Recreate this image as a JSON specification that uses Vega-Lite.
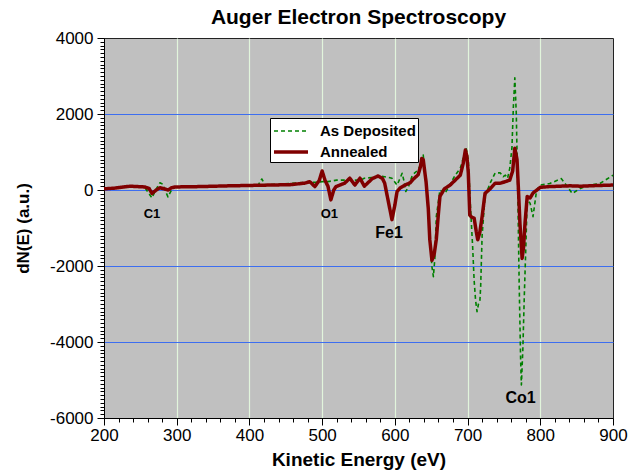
{
  "$schema": "https://vega.github.io/schema/vega-lite/v6.json",
  "autosize": {"type": "none"},
  "width": 509,
  "height": 380,
  "padding": {"left": 104, "top": 38, "right": 28, "bottom": 58},
  "background": "white",
  "config": {
    "font": "Liberation Sans",
    "view": {"fill": "#c0c0c0", "stroke": "#222222", "strokeWidth": 1},
    "legend": {
      "orient": "none", "legendX": 166, "legendY": 80, "title": null,
      "fillColor": "white", "strokeColor": "black", "padding": 2,
      "symbolType": "M-1.7,0L1.7,0", "symbolSize": 400, "symbolOffset": 7,
      "labelFontSize": 15, "labelFontWeight": "bold", "labelColor": "black",
      "rowPadding": 1, "labelOffset": 17
    }
  },
  "title": {"text": "Auger Electron Spectroscopy", "fontSize": 21, "fontWeight": "bold", "anchor": "middle", "offset": 1, "color": "black"},
  "datasets": {
    "spec": [
      {"e":200,"v":30,"s":"As Deposited"},{"e":215,"v":40,"s":"As Deposited"},{"e":236,"v":100,"s":"As Deposited"},{"e":256,"v":70,"s":"As Deposited"},{"e":262,"v":-100,"s":"As Deposited"},{"e":266,"v":-210,"s":"As Deposited"},{"e":271,"v":0,"s":"As Deposited"},{"e":277,"v":190,"s":"As Deposited"},{"e":281,"v":150,"s":"As Deposited"},{"e":285,"v":-50,"s":"As Deposited"},{"e":288,"v":-180,"s":"As Deposited"},{"e":292,"v":-30,"s":"As Deposited"},{"e":298,"v":80,"s":"As Deposited"},{"e":332,"v":90,"s":"As Deposited"},{"e":373,"v":110,"s":"As Deposited"},{"e":401,"v":120,"s":"As Deposited"},{"e":412,"v":130,"s":"As Deposited"},{"e":417,"v":290,"s":"As Deposited"},{"e":422,"v":130,"s":"As Deposited"},{"e":428,"v":140,"s":"As Deposited"},{"e":456,"v":170,"s":"As Deposited"},{"e":476,"v":200,"s":"As Deposited"},{"e":490,"v":200,"s":"As Deposited"},{"e":500,"v":220,"s":"As Deposited"},{"e":508,"v":220,"s":"As Deposited"},{"e":520,"v":260,"s":"As Deposited"},{"e":531,"v":260,"s":"As Deposited"},{"e":545,"v":260,"s":"As Deposited"},{"e":552,"v":250,"s":"As Deposited"},{"e":558,"v":310,"s":"As Deposited"},{"e":569,"v":330,"s":"As Deposited"},{"e":577,"v":370,"s":"As Deposited"},{"e":586,"v":350,"s":"As Deposited"},{"e":596,"v":310,"s":"As Deposited"},{"e":603,"v":130,"s":"As Deposited"},{"e":607,"v":300,"s":"As Deposited"},{"e":610,"v":440,"s":"As Deposited"},{"e":613,"v":200,"s":"As Deposited"},{"e":615,"v":-40,"s":"As Deposited"},{"e":619,"v":100,"s":"As Deposited"},{"e":624,"v":390,"s":"As Deposited"},{"e":632,"v":530,"s":"As Deposited"},{"e":635,"v":660,"s":"As Deposited"},{"e":639,"v":920,"s":"As Deposited"},{"e":643,"v":200,"s":"As Deposited"},{"e":646,"v":-530,"s":"As Deposited"},{"e":649,"v":-1500,"s":"As Deposited"},{"e":651,"v":-2020,"s":"As Deposited"},{"e":653,"v":-2280,"s":"As Deposited"},{"e":655,"v":-1800,"s":"As Deposited"},{"e":657,"v":-700,"s":"As Deposited"},{"e":662,"v":0,"s":"As Deposited"},{"e":669,"v":-90,"s":"As Deposited"},{"e":676,"v":150,"s":"As Deposited"},{"e":683,"v":390,"s":"As Deposited"},{"e":690,"v":570,"s":"As Deposited"},{"e":695,"v":900,"s":"As Deposited"},{"e":698,"v":1100,"s":"As Deposited"},{"e":701,"v":790,"s":"As Deposited"},{"e":704,"v":-440,"s":"As Deposited"},{"e":707,"v":-1500,"s":"As Deposited"},{"e":709,"v":-2370,"s":"As Deposited"},{"e":711,"v":-2900,"s":"As Deposited"},{"e":713,"v":-3200,"s":"As Deposited"},{"e":715,"v":-3000,"s":"As Deposited"},{"e":717,"v":-2900,"s":"As Deposited"},{"e":718,"v":-2540,"s":"As Deposited"},{"e":720,"v":-1200,"s":"As Deposited"},{"e":724,"v":-170,"s":"As Deposited"},{"e":731,"v":180,"s":"As Deposited"},{"e":738,"v":450,"s":"As Deposited"},{"e":745,"v":450,"s":"As Deposited"},{"e":749,"v":350,"s":"As Deposited"},{"e":752,"v":390,"s":"As Deposited"},{"e":755,"v":310,"s":"As Deposited"},{"e":758,"v":570,"s":"As Deposited"},{"e":761,"v":1100,"s":"As Deposited"},{"e":763,"v":2200,"s":"As Deposited"},{"e":765,"v":2950,"s":"As Deposited"},{"e":767,"v":2000,"s":"As Deposited"},{"e":769,"v":0,"s":"As Deposited"},{"e":771,"v":-2500,"s":"As Deposited"},{"e":773,"v":-4500,"s":"As Deposited"},{"e":774,"v":-5130,"s":"As Deposited"},{"e":776,"v":-4200,"s":"As Deposited"},{"e":778,"v":-2800,"s":"As Deposited"},{"e":780,"v":-1580,"s":"As Deposited"},{"e":782,"v":-260,"s":"As Deposited"},{"e":786,"v":-350,"s":"As Deposited"},{"e":790,"v":-700,"s":"As Deposited"},{"e":795,"v":0,"s":"As Deposited"},{"e":800,"v":130,"s":"As Deposited"},{"e":813,"v":170,"s":"As Deposited"},{"e":829,"v":300,"s":"As Deposited"},{"e":844,"v":-90,"s":"As Deposited"},{"e":855,"v":40,"s":"As Deposited"},{"e":868,"v":130,"s":"As Deposited"},{"e":882,"v":170,"s":"As Deposited"},{"e":900,"v":390,"s":"As Deposited"},
      {"e":200,"v":30,"s":"Annealed"},{"e":215,"v":50,"s":"Annealed"},{"e":236,"v":100,"s":"Annealed"},{"e":256,"v":80,"s":"Annealed"},{"e":262,"v":40,"s":"Annealed"},{"e":266,"v":-90,"s":"Annealed"},{"e":272,"v":0,"s":"Annealed"},{"e":277,"v":60,"s":"Annealed"},{"e":283,"v":30,"s":"Annealed"},{"e":288,"v":0,"s":"Annealed"},{"e":293,"v":60,"s":"Annealed"},{"e":298,"v":80,"s":"Annealed"},{"e":332,"v":90,"s":"Annealed"},{"e":373,"v":110,"s":"Annealed"},{"e":401,"v":120,"s":"Annealed"},{"e":428,"v":130,"s":"Annealed"},{"e":456,"v":140,"s":"Annealed"},{"e":476,"v":180,"s":"Annealed"},{"e":483,"v":220,"s":"Annealed"},{"e":490,"v":90,"s":"Annealed"},{"e":496,"v":250,"s":"Annealed"},{"e":500,"v":500,"s":"Annealed"},{"e":504,"v":250,"s":"Annealed"},{"e":508,"v":100,"s":"Annealed"},{"e":512,"v":-260,"s":"Annealed"},{"e":516,"v":0,"s":"Annealed"},{"e":519,"v":90,"s":"Annealed"},{"e":531,"v":180,"s":"Annealed"},{"e":538,"v":310,"s":"Annealed"},{"e":545,"v":130,"s":"Annealed"},{"e":552,"v":310,"s":"Annealed"},{"e":558,"v":100,"s":"Annealed"},{"e":569,"v":300,"s":"Annealed"},{"e":577,"v":370,"s":"Annealed"},{"e":583,"v":300,"s":"Annealed"},{"e":586,"v":180,"s":"Annealed"},{"e":591,"v":-300,"s":"Annealed"},{"e":596,"v":-780,"s":"Annealed"},{"e":600,"v":-400,"s":"Annealed"},{"e":603,"v":-40,"s":"Annealed"},{"e":607,"v":50,"s":"Annealed"},{"e":614,"v":130,"s":"Annealed"},{"e":621,"v":190,"s":"Annealed"},{"e":625,"v":280,"s":"Annealed"},{"e":632,"v":400,"s":"Annealed"},{"e":635,"v":600,"s":"Annealed"},{"e":637,"v":830,"s":"Annealed"},{"e":639,"v":800,"s":"Annealed"},{"e":643,"v":200,"s":"Annealed"},{"e":646,"v":-500,"s":"Annealed"},{"e":648,"v":-1300,"s":"Annealed"},{"e":651,"v":-1850,"s":"Annealed"},{"e":654,"v":-1700,"s":"Annealed"},{"e":657,"v":-1300,"s":"Annealed"},{"e":660,"v":-600,"s":"Annealed"},{"e":662,"v":-170,"s":"Annealed"},{"e":668,"v":30,"s":"Annealed"},{"e":676,"v":130,"s":"Annealed"},{"e":683,"v":260,"s":"Annealed"},{"e":690,"v":390,"s":"Annealed"},{"e":694,"v":700,"s":"Annealed"},{"e":697,"v":1050,"s":"Annealed"},{"e":699,"v":900,"s":"Annealed"},{"e":701,"v":450,"s":"Annealed"},{"e":703,"v":-660,"s":"Annealed"},{"e":706,"v":-720,"s":"Annealed"},{"e":709,"v":-740,"s":"Annealed"},{"e":712,"v":-1100,"s":"Annealed"},{"e":714,"v":-1310,"s":"Annealed"},{"e":717,"v":-1100,"s":"Annealed"},{"e":720,"v":-700,"s":"Annealed"},{"e":724,"v":-90,"s":"Annealed"},{"e":731,"v":30,"s":"Annealed"},{"e":738,"v":180,"s":"Annealed"},{"e":745,"v":180,"s":"Annealed"},{"e":752,"v":220,"s":"Annealed"},{"e":758,"v":260,"s":"Annealed"},{"e":762,"v":500,"s":"Annealed"},{"e":765,"v":1100,"s":"Annealed"},{"e":768,"v":800,"s":"Annealed"},{"e":770,"v":0,"s":"Annealed"},{"e":772,"v":-870,"s":"Annealed"},{"e":775,"v":-1800,"s":"Annealed"},{"e":777,"v":-1500,"s":"Annealed"},{"e":779,"v":-870,"s":"Annealed"},{"e":782,"v":-170,"s":"Annealed"},{"e":786,"v":-210,"s":"Annealed"},{"e":790,"v":-80,"s":"Annealed"},{"e":800,"v":70,"s":"Annealed"},{"e":813,"v":90,"s":"Annealed"},{"e":827,"v":100,"s":"Annealed"},{"e":841,"v":110,"s":"Annealed"},{"e":855,"v":100,"s":"Annealed"},{"e":868,"v":110,"s":"Annealed"},{"e":882,"v":120,"s":"Annealed"},{"e":900,"v":130,"s":"Annealed"}
    ],
    "labels": [
      {"e":266,"v":-630,"t":"C1"},
      {"e":510,"v":-630,"t":"O1"},
      {"e":592,"v":-1120,"t":"Fe1"},
      {"e":773,"v":-5470,"t":"Co1"}
    ]
  },
  "layer": [
    {
      "data": {"name": "spec"},
      "mark": {"type": "line", "interpolate": "linear", "strokeJoin": "round"},
      "encoding": {
        "x": {
          "field": "e", "type": "quantitative",
          "scale": {"domain": [200, 900], "nice": false, "zero": false},
          "title": "Kinetic Energy (eV)",
          "axis": {
            "values": [200,220,240,260,280,300,320,340,360,380,400,420,440,460,480,500,520,540,560,580,600,620,640,660,680,700,720,740,760,780,800,820,840,860,880,900],
            "tickCount": 1000,
            "labelExpr": "datum.value % 100 === 0 ? '' + datum.value : ''",
            "labelOverlap": false, "labelFlush": false,
            "labelFontSize": 17, "labelColor": "black", "labelPadding": 2,
            "tickSize": {"condition": {"test": "datum.value % 100 === 0", "value": 7}, "value": 4},
            "tickColor": "black", "domainColor": "black",
            "grid": true, "gridColor": "#e2f5dc", "gridWidth": 1.2,
            "gridOpacity": {"condition": {"test": "datum.value % 100 === 0 && datum.value > 200 && datum.value < 900", "value": 1}, "value": 0},
            "titleFontSize": 19, "titleFontWeight": "bold", "titleColor": "black", "titlePadding": 7
          }
        },
        "y": {
          "field": "v", "type": "quantitative",
          "scale": {"domain": [-6000, 4000], "nice": false, "zero": false},
          "title": "dN(E) (a.u.)",
          "axis": {
            "values": [-6000,-5900,-5800,-5700,-5600,-5500,-5400,-5300,-5200,-5100,-5000,-4900,-4800,-4700,-4600,-4500,-4400,-4300,-4200,-4100,-4000,-3900,-3800,-3700,-3600,-3500,-3400,-3300,-3200,-3100,-3000,-2900,-2800,-2700,-2600,-2500,-2400,-2300,-2200,-2100,-2000,-1900,-1800,-1700,-1600,-1500,-1400,-1300,-1200,-1100,-1000,-900,-800,-700,-600,-500,-400,-300,-200,-100,0,100,200,300,400,500,600,700,800,900,1000,1100,1200,1300,1400,1500,1600,1700,1800,1900,2000,2100,2200,2300,2400,2500,2600,2700,2800,2900,3000,3100,3200,3300,3400,3500,3600,3700,3800,3900,4000],
            "tickCount": 1000,
            "labelExpr": "datum.value % 2000 === 0 ? '' + datum.value : ''",
            "labelOverlap": false, "labelFlush": false,
            "labelFontSize": 17, "labelColor": "black", "labelPadding": 4,
            "tickSize": {"condition": {"test": "datum.value % 2000 === 0", "value": 7}, "value": 4},
            "tickColor": "black", "domainColor": "black",
            "grid": true, "gridColor": "#3d6ef0", "gridWidth": 1.2,
            "gridOpacity": {"condition": {"test": "datum.value % 2000 === 0 && datum.value > -6000 && datum.value < 4000", "value": 1}, "value": 0},
            "titleFontSize": 17, "titleFontWeight": "bold", "titleColor": "black", "titlePadding": 17
          }
        },
        "color": {
          "field": "s", "type": "nominal",
          "scale": {"domain": ["As Deposited", "Annealed"], "range": ["#008000", "#800000"]}
        },
        "strokeDash": {
          "field": "s", "type": "nominal",
          "scale": {"domain": ["As Deposited", "Annealed"], "range": [[4, 3], [1, 0]]}
        },
        "strokeWidth": {
          "field": "s", "type": "nominal",
          "scale": {"domain": ["As Deposited", "Annealed"], "range": [1.6, 3.5]}
        }
      }
    },
    {
      "data": {"name": "labels"},
      "mark": {"type": "text", "fontWeight": "bold", "color": "black", "baseline": "middle", "align": "center"},
      "encoding": {
        "x": {"field": "e", "type": "quantitative"},
        "y": {"field": "v", "type": "quantitative"},
        "text": {"field": "t"},
        "size": {"condition": {"test": "datum.t === 'C1' || datum.t === 'O1'", "value": 13}, "value": 16}
      }
    }
  ]
}
